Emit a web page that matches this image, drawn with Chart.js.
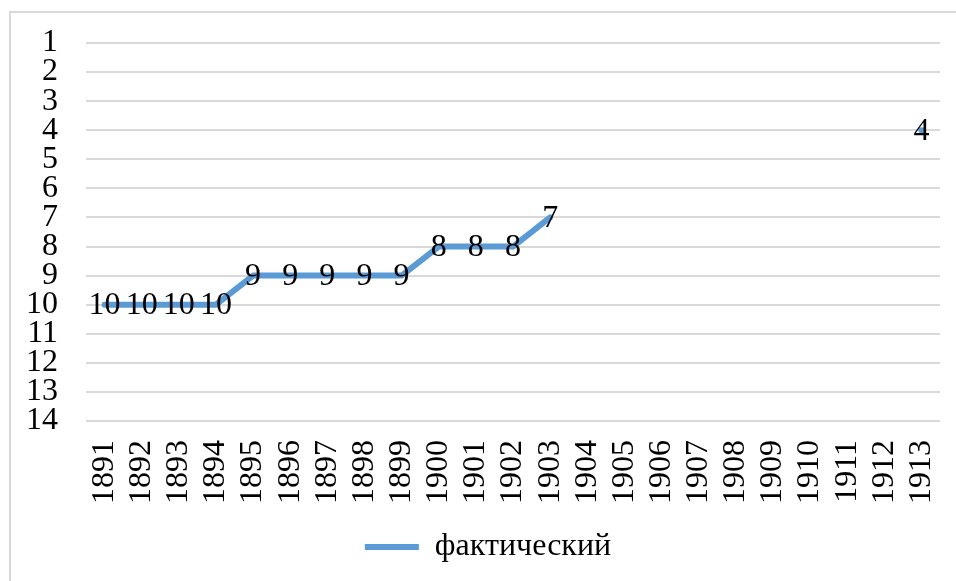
<!DOCTYPE html>
<html>
<head>
<meta charset="utf-8">
<script src="https://cdn.jsdelivr.net/npm/chart.js@4/dist/chart.umd.min.js"></script>
<style>
  html, body { margin: 0; padding: 0; background: #fff; overflow: hidden; }
  .frame { position: absolute; left: 9px; top: 11px; width: 1000px; height: 1000px; border: 2px solid #d9d9d9; box-sizing: border-box; }
  .wrap { position: absolute; left: 0; top: 0; width: 956px; height: 581px; }
</style>
</head>
<body>
<div class="frame"></div>
<div class="wrap"><canvas id="chart"></canvas></div>
<script>
const years = ["1891", "1892", "1893", "1894", "1895", "1896", "1897", "1898", "1899", "1900", "1901", "1902",
  "1903", "1904", "1905", "1906", "1907", "1908", "1909", "1910", "1911", "1912", "1913"];
const actual = [10, 10, 10, 10, 9, 9, 9, 9, 9, 8, 8, 8, 7, null, null, null, null, null, null, null, null, null, 4];
const seriesName = "фактический";

const FONT = "'Liberation Serif', 'Times New Roman', serif";
const FS = 32;

// simple value labels, drawn centred on each point
const pointLabels = {
  id: "pointLabels",
  afterDatasetsDraw(chart) {
    const ctx = chart.ctx;
    const meta = chart.getDatasetMeta(0);
    ctx.save();
    ctx.font = FS + "px " + FONT;
    ctx.fillStyle = "#000";
    ctx.textAlign = "center";
    ctx.textBaseline = "middle";
    meta.data.forEach((pt, i) => {
      const v = actual[i];
      if (v === null) return;
      ctx.fillText(String(v), pt.x, pt.y + 1);
    });
    ctx.restore();
  }
};

// nudge the legend a bit to the right, like the original
const legendShift = {
  id: "legendShift",
  afterLayout(chart) {
    chart.legend.left += 18;
    chart.legend.right += 18;
  }
};

new Chart(document.getElementById("chart"), {
  type: "line",
  data: {
    labels: years,
    datasets: [{
      label: seriesName,
      data: actual,
      borderColor: "#5b9bd5",
      backgroundColor: "#5b9bd5",
      borderWidth: 6,
      borderCapStyle: "round",
      borderJoinStyle: "round",
      pointRadius: 0,
      tension: 0,
      spanGaps: false,
    }],
  },
  options: {
    responsive: true,
    maintainAspectRatio: false,
    animation: false,
    layout: { padding: { left: 0, right: 16, top: 43, bottom: 8 } },
    plugins: {
      legend: {
        position: "bottom",
        labels: {
          usePointStyle: true,
          pointStyle: "line",
          pointStyleWidth: 54,
          boxHeight: 5,
          color: "#000",
          font: { family: FONT, size: FS },
          padding: 8,
        },
      },
      tooltip: { enabled: false },
    },
    scales: {
      x: {
        offset: true,
        grid: { display: false },
        border: { display: false },
        ticks: {
          color: "#000",
          font: { family: FONT, size: FS },
          minRotation: 90,
          maxRotation: 90,
          autoSkip: false,
          padding: 11,
        },
        afterFit(scale) {
          scale.height = 102;
          scale.paddingLeft = 0;
          scale.paddingRight = 0;
        },
      },
      y: {
        reverse: true,
        min: 1,
        max: 14,
        grid: { color: "#d9d9d9", lineWidth: 2, drawTicks: false },
        border: { display: false },
        ticks: {
          stepSize: 1,
          autoSkip: false,
          color: "#000",
          font: { family: FONT, size: FS },
          padding: 28,
        },
        afterFit(scale) {
          scale.width = 86;
          scale.paddingTop = 0;
          scale.paddingBottom = 0;
        },
      },
    },
  },
  plugins: [pointLabels, legendShift],
});
</script>
</body>
</html>
